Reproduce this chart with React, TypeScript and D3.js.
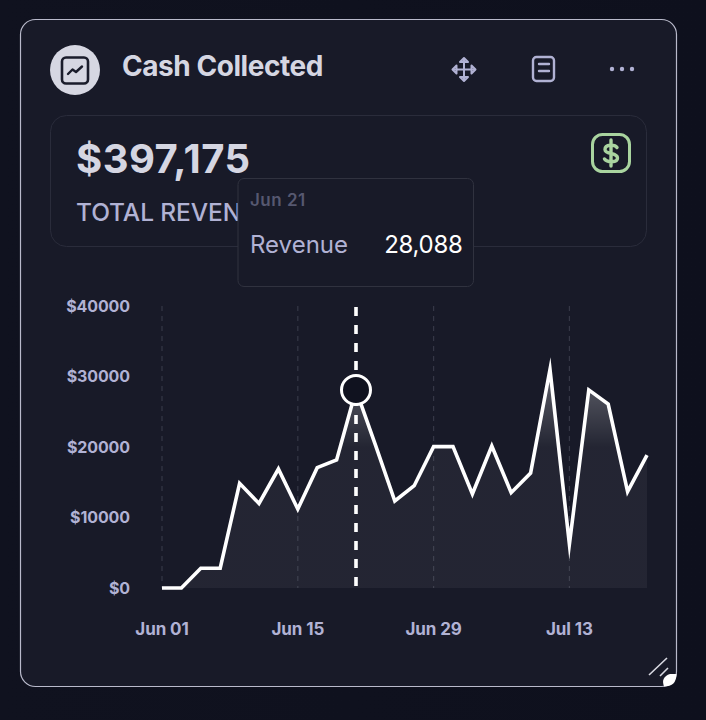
import React from "react";
import * as d3 from "d3";

const startDate = "2024-06-01";
const stepDays = 2;
const revenue = [0, 0, 2800, 2800, 14850, 12000, 16880, 11200, 17070, 18160, 28088, 20300, 12340, 14510, 20050, 20050, 13330, 20140, 13520, 16300, 31000, 6200, 28100, 26100, 13660, 18860];
const yTicks = [0, 10000, 20000, 30000, 40000];
const xTickLabels = ["Jun 01", "Jun 15", "Jun 29", "Jul 13"];
const xTickIndexes = [0, 7, 14, 21];
const hoverIndex = 10;
const title = "Cash Collected";
const total = "$397,175";
const subtitle = "TOTAL REVENUE";
const tooltipDate = "Jun 21";
const tooltipLabel = "Revenue";

const FONT = "Inter, 'Liberation Sans', sans-serif";
const t0 = new Date(startDate + "T00:00:00Z").getTime();
const dates = revenue.map((_, i) => new Date(t0 + i * stepDays * 86400000));

export default function App() {
  const x = d3.scaleUtc().domain([dates[0], dates[dates.length - 1]]).range([162, 647]);
  const y = d3.scaleLinear().domain([0, 40000]).range([588, 306]);
  const line = d3.line<number>().x((_, i) => x(dates[i])).y((d) => y(d)).curve(d3.curveLinear);
  const area = d3.area<number>().x((_, i) => x(dates[i])).y0(y(0)).y1((d) => y(d)).curve(d3.curveLinear);
  const hx = x(dates[hoverIndex]);
  const hy = y(revenue[hoverIndex]);
  const labelColor = "#b1b2d4";
  const titleColor = "#d5d6e2";
  return (
    <svg width={706} height={720} style={{ position: "fixed", left: 0, top: 0, display: "block" }} fontFamily={FONT}>
      <defs>
        <linearGradient id="bg" x1="0" x2="1" y1="0" y2="0">
          <stop offset="0" stopColor="#10121f" />
          <stop offset="1" stopColor="#0e101d" />
        </linearGradient>
        <linearGradient id="areaFill" gradientUnits="userSpaceOnUse" x1="0" x2="0" y1={y(32000)} y2={y(20000)}>
          <stop offset="0" stopColor="#ffffff" stopOpacity={0.34} />
          <stop offset="1" stopColor="#ffffff" stopOpacity={0.05} />
        </linearGradient>
      </defs>
      <rect width={706} height={720} fill="url(#bg)" />
      <rect x={20.5} y={19.5} width={656} height={667} rx={15} fill="#181a28" stroke="#b9bacb" strokeWidth={1.2} />

      {/* header */}
      <circle cx={75} cy={70} r={25} fill="#d6d7e2" />
      <rect x={62} y={57.5} width={26} height={26} rx={4} fill="none" stroke="#1a1c2b" strokeWidth={2.6} />
      <path d="M68 74 L72.5 69.5 L76 72 L82 66.5" fill="none" stroke="#1a1c2b" strokeWidth={2.4} strokeLinejoin="round" strokeLinecap="round" />
      <text x={122} y={76} fontSize={28} fontWeight={700} fill={titleColor} letterSpacing={-0.45}>{title}</text>

      {/* move icon */}
      <g fill="none" stroke="#b1b2d4" strokeWidth={2} strokeLinecap="round" strokeLinejoin="round">
        <path d="M464 59 V80 M453.500 69.500 H474.500" />
        <path d="M460 62 L464 58 L468 62 Z M460 77 L464 81 L468 77 Z M456.500 65.500 L452.500 69.500 L456.500 73.500 Z M471.500 65.500 L475.500 69.500 L471.500 73.500 Z" />
      </g>
      {/* document icon */}
      <rect x={533} y={57} width={21} height={24} rx={3.5} fill="none" stroke="#b1b2d4" strokeWidth={2.4} />
      <path d="M539 64 H549 M539 71 H549" stroke="#b1b2d4" strokeWidth={2.4} strokeLinecap="round" />
      {/* dots */}
      <circle cx={612} cy={69} r={2.2} fill="#b1b2d4" />
      <circle cx={622} cy={69} r={2.2} fill="#b1b2d4" />
      <circle cx={632} cy={69} r={2.2} fill="#b1b2d4" />

      {/* stat card */}
      <rect x={50.5} y={115.5} width={596} height={131} rx={16} fill="#181a28" stroke="#2a2c3b" strokeWidth={1} />
      <text x={76} y={173} fontSize={40} fontWeight={700} fill={titleColor} letterSpacing={0.45}>{total}</text>
      <text x={76} y={221} fontSize={24.5} fontWeight={500} fill={labelColor} letterSpacing={-0.1}>{subtitle}</text>
      <rect x={592.500} y={134.500} width={37} height={37} rx={10} fill="none" stroke="#a9d49f" strokeWidth={3} />
      <path d="M617 147.500 C615 144.500 605 144 605 149.500 C605 155 617.500 152 617.500 158 C617.500 163 607 162.500 604.500 159 M611 140 V166" fill="none" stroke="#a9d49f" strokeWidth={3.4} strokeLinecap="round" />

      {/* grid */}
      {xTickIndexes.map((idx) => (
        <line key={idx} x1={x(dates[idx])} x2={x(dates[idx])} y1={306} y2={588} stroke="#353746" strokeWidth={1.2} strokeDasharray="5 5" />
      ))}
      {/* area & line */}
      <path d={area(revenue) ?? ""} fill="url(#areaFill)" />
      <line x1={hx} x2={hx} y1={307} y2={586} stroke="#ffffff" strokeWidth={3.6} strokeDasharray="9 9" />
      <path d={line(revenue) ?? ""} fill="none" stroke="#ffffff" strokeWidth={3.6} strokeLinejoin="miter" strokeMiterlimit={10} />
      <circle cx={hx} cy={hy} r={14.500} fill="#10121f" stroke="#ffffff" strokeWidth={3} />

      {/* axis labels */}
      {yTicks.map((t) => (
        <text key={t} x={130} y={y(t) + 5.500} textAnchor="end" fontSize={16} fontWeight={700} fill={labelColor} letterSpacing={-0.1}>{"$" + t}</text>
      ))}
      {xTickIndexes.map((idx, i) => (
        <text key={idx} x={x(dates[idx])} y={635} textAnchor="middle" fontSize={17} fontWeight={700} fill={labelColor} letterSpacing={-0.1}>{xTickLabels[i]}</text>
      ))}

      {/* tooltip */}
      <rect x={238} y={178.500} width={235.500} height={108} rx={6} fill="#181a28" stroke="#30323f" strokeWidth={1} />
      <text x={250} y={206} fontSize={17} fontWeight={600} fill="#565870" letterSpacing={0.5}>{tooltipDate}</text>
      <text x={250} y={253} fontSize={24} fontWeight={400} fill={labelColor}>{tooltipLabel}</text>
      <text x={462.500} y={253} textAnchor="end" fontSize={24} fontWeight={400} fill="#ffffff" letterSpacing={-0.3}>{d3.format(",")(revenue[hoverIndex])}</text>

      {/* resize handle */}
      <path d="M649 675 L667 658 M660 676 L668 668" stroke="#d8d9e2" strokeWidth={1.6} fill="none" />
      <path d="M676.500 674 Q676.500 686.500 664 686.500 Q660.500 677 670 674 Z" fill="#ffffff" />
    </svg>
  );
}
